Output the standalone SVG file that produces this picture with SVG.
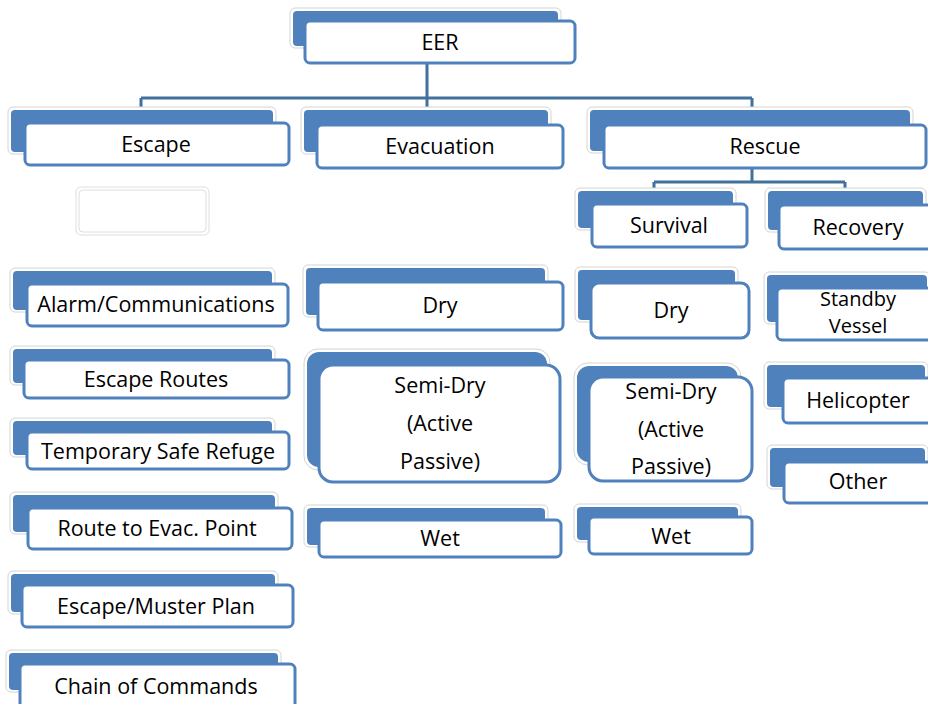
<svg xmlns="http://www.w3.org/2000/svg" width="928" height="704" viewBox="0 0 928 704">
<style>
.ol{fill:#fff;stroke:#d4d4d4;stroke-width:1}
.bk{fill:#4f81bd;stroke:none}
.fr{fill:#fff;stroke:#4f81bd;stroke-width:3}
.t{font-family:"Open Sans","Liberation Sans",sans-serif;font-size:21.5px;fill:#000;text-anchor:middle}
.s{font-size:20px}
.cn{fill:none;stroke:#41719c;stroke-width:3}
</style>
<rect width="928" height="704" fill="#fff"/>
<g id="connectors">
<path class="cn" d="M427 63V98M141 98H752M141 98V120M427 98V120M752 98V120"/>
<path class="cn" d="M752 168V182M654 182H845M654 182V198M845 182V198"/>
</g>
<g id="eer"><rect class="ol" x="290" y="8" width="271" height="40" rx="5"/><rect class="bk" x="293" y="11" width="265" height="35" rx="4"/><rect class="fr" x="305" y="21" width="270" height="42" rx="5"/><text class="t" x="440" y="50">EER</text></g>
<g id="escape"><rect class="ol" x="8" y="107" width="268" height="47" rx="5"/><rect class="bk" x="11" y="110" width="262" height="42" rx="4"/><rect class="fr" x="25" y="123" width="264" height="42" rx="5"/><text class="t" x="156" y="152">Escape</text></g>
<g id="empty"><rect x="76" y="187" width="133" height="48" rx="5" fill="#fff" stroke="#dedede" stroke-width="1"/><rect x="79" y="190" width="127" height="42" rx="4" fill="#fff" stroke="#dedede" stroke-width="1"/></g>
<g id="evacuation"><rect class="ol" x="301" y="107" width="250" height="47" rx="5"/><rect class="bk" x="304" y="110" width="244" height="42" rx="4"/><rect class="fr" x="317" y="125" width="246" height="43" rx="5"/><text class="t" x="440" y="154">Evacuation</text></g>
<g id="rescue"><rect class="ol" x="587" y="107" width="326" height="46" rx="5"/><rect class="bk" x="590" y="110" width="320" height="41" rx="4"/><rect class="fr" x="604" y="125" width="322" height="43" rx="5"/><text class="t" x="765" y="154">Rescue</text></g>
<g id="survival"><rect class="ol" x="575" y="188" width="161" height="42" rx="5"/><rect class="bk" x="578" y="191" width="155" height="37" rx="4"/><rect class="fr" x="592" y="204" width="155" height="43" rx="5"/><text class="t" x="669" y="233">Survival</text></g>
<g id="recovery"><rect class="ol" x="765" y="188" width="161" height="44" rx="5"/><rect class="bk" x="768" y="191" width="155" height="39" rx="4"/><rect class="fr" x="779" y="205" width="155" height="44" rx="5"/><text class="t" x="858" y="235">Recovery</text></g>
<g id="alarm"><rect class="ol" x="10" y="268" width="265" height="44" rx="5"/><rect class="bk" x="13" y="271" width="259" height="39" rx="4"/><rect class="fr" x="27" y="284" width="261" height="42" rx="5"/><text class="t" x="156" y="312">Alarm/Communications</text></g>
<g id="routes"><rect class="ol" x="10" y="346" width="265" height="39" rx="5"/><rect class="bk" x="13" y="349" width="259" height="34" rx="4"/><rect class="fr" x="24" y="360" width="265" height="38" rx="5"/><text class="t" x="156" y="387">Escape Routes</text></g>
<g id="refuge"><rect class="ol" x="10" y="418" width="265" height="39" rx="5"/><rect class="bk" x="13" y="421" width="259" height="34" rx="4"/><rect class="fr" x="27" y="432" width="262" height="37" rx="5"/><text class="t" x="158" y="459">Temporary Safe Refuge</text></g>
<g id="route-evac"><rect class="ol" x="10" y="492" width="268" height="42" rx="5"/><rect class="bk" x="13" y="495" width="262" height="37" rx="4"/><rect class="fr" x="28" y="508" width="264" height="41" rx="5"/><text class="t" x="157" y="536">Route to Evac. Point</text></g>
<g id="muster"><rect class="ol" x="8" y="571" width="270" height="43" rx="5"/><rect class="bk" x="11" y="574" width="264" height="38" rx="4"/><rect class="fr" x="22" y="585" width="271" height="42" rx="5"/><text class="t" x="156" y="614">Escape/Muster Plan</text></g>
<g id="chain"><rect class="ol" x="6" y="650" width="275" height="42" rx="5"/><rect class="bk" x="9" y="653" width="269" height="37" rx="4"/><rect class="fr" x="20" y="664" width="275" height="50" rx="5"/><text class="t" x="156" y="694">Chain of Commands</text></g>
<g id="evac-dry"><rect class="ol" x="303" y="265" width="245" height="52" rx="5"/><rect class="bk" x="306" y="268" width="239" height="47" rx="4"/><rect class="fr" x="318" y="282" width="245" height="48" rx="5"/><text class="t" x="440" y="313">Dry</text></g>
<g id="evac-semidry"><rect class="ol" x="304" y="349" width="246" height="121" rx="14"/><rect class="bk" x="307" y="352" width="240" height="115" rx="12"/><rect class="fr" x="319" y="365" width="241" height="117" rx="14"/><text class="t" x="440" y="393">Semi-Dry</text><text class="t" x="440" y="431">(Active</text><text class="t" x="440" y="469">Passive)</text></g>
<g id="evac-wet"><rect class="ol" x="304" y="505" width="244" height="42" rx="5"/><rect class="bk" x="307" y="508" width="238" height="37" rx="4"/><rect class="fr" x="319" y="520" width="242" height="37" rx="5"/><text class="t" x="440" y="546">Wet</text></g>
<g id="surv-dry"><rect class="ol" x="575" y="267" width="163" height="55" rx="5"/><rect class="bk" x="578" y="270" width="157" height="50" rx="4"/><rect class="fr" x="591" y="283" width="158" height="55" rx="8"/><text class="t" x="671" y="318">Dry</text></g>
<g id="surv-semidry"><rect class="ol" x="574" y="363" width="167" height="102" rx="14"/><rect class="bk" x="577" y="366" width="161" height="96" rx="12"/><rect class="fr" x="589" y="377" width="163" height="104" rx="14"/><text class="t" x="671" y="399">Semi-Dry</text><text class="t" x="671" y="437">(Active</text><text class="t" x="671" y="474">Passive)</text></g>
<g id="surv-wet"><rect class="ol" x="574" y="504" width="167" height="38" rx="5"/><rect class="bk" x="577" y="507" width="161" height="33" rx="4"/><rect class="fr" x="589" y="517" width="163" height="37" rx="5"/><text class="t" x="671" y="544">Wet</text></g>
<g id="standby"><rect class="ol" x="764" y="272" width="166" height="52" rx="5"/><rect class="bk" x="767" y="275" width="160" height="47" rx="4"/><rect class="fr" x="777" y="288" width="160" height="52" rx="5"/><text class="t s" x="858" y="306">Standby</text><text class="t s" x="858" y="333">Vessel</text></g>
<g id="helicopter"><rect class="ol" x="764" y="362" width="164" height="47" rx="5"/><rect class="bk" x="767" y="365" width="158" height="42" rx="4"/><rect class="fr" x="783" y="378" width="160" height="45" rx="5"/><text class="t" x="858" y="408">Helicopter</text></g>
<g id="other"><rect class="ol" x="767" y="445" width="161" height="44" rx="5"/><rect class="bk" x="770" y="448" width="155" height="39" rx="4"/><rect class="fr" x="784" y="462" width="160" height="41" rx="5"/><text class="t" x="858" y="489">Other</text></g>
</svg>
